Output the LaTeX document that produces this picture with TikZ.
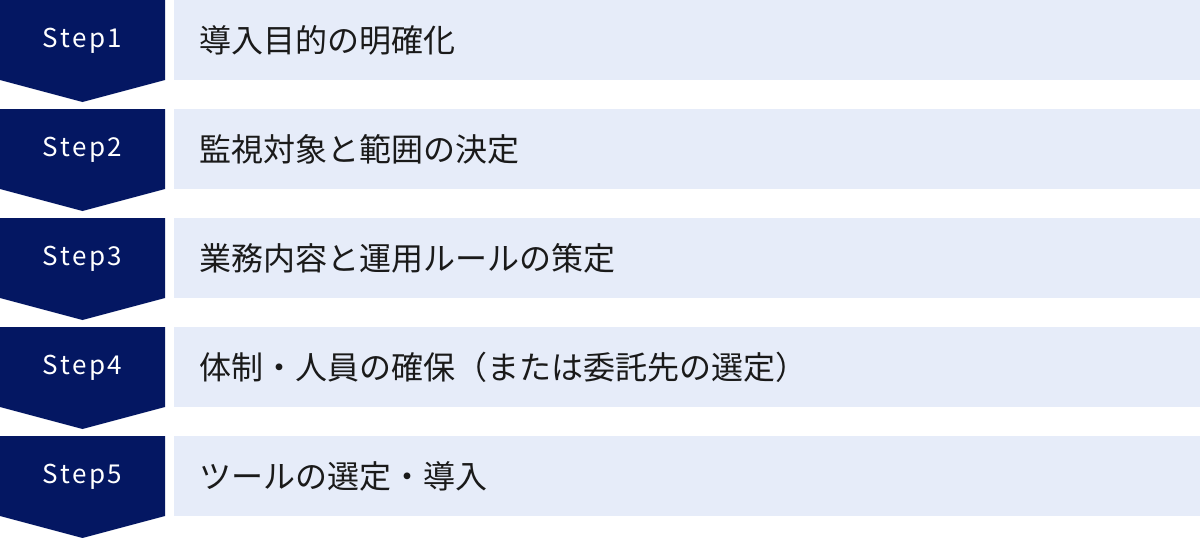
\documentclass[tikz,border=0pt]{standalone}
\usepackage{fontspec}
\newfontfamily\jpfont{Noto Sans CJK JP}
\newfontfamily\stepfont[LetterSpace=10]{Noto Sans CJK JP}
\definecolor{navy}{RGB}{4,23,98}
\definecolor{lightbox}{RGB}{230,236,249}
\definecolor{txt}{RGB}{26,26,26}
\tikzset{
  stepshape/.style={fill=navy},
  boxshape/.style={fill=lightbox},
  steplabel/.style={text=white, font=\stepfont\fontsize{26}{28}\selectfont, inner sep=0pt, anchor=center},
  desclabel/.style={text=txt, font=\jpfont\fontsize{32}{34}\selectfont, inner sep=0pt, anchor=west}
}
\begin{document}
\begin{tikzpicture}[x=1pt,y=-1pt]
\useasboundingbox (0,0) rectangle (1200,538);
\foreach \i/\t in {0/導入目的の明確化,1/監視対象と範囲の決定,2/業務内容と運用ルールの策定,3/体制・人員の確保（または委託先の選定）,4/ツールの選定・導入}{
  \pgfmathsetmacro{\y}{\i*109}
  \fill[stepshape] (0,\y) -- (165,\y) -- (165,\y+80) -- (82.5,\y+102) -- (0,\y+80) -- cycle;
  \fill[boxshape] (174,\y) rectangle (1200,\y+80);
  \pgfmathtruncatemacro{\n}{\i+1}
  \node[steplabel] (s\n) at (82.5,\y+40.5) {Step\n};
  \node[desclabel] (d\n) at (199,\y+40) {\t};
}
\end{tikzpicture}
\end{document}
